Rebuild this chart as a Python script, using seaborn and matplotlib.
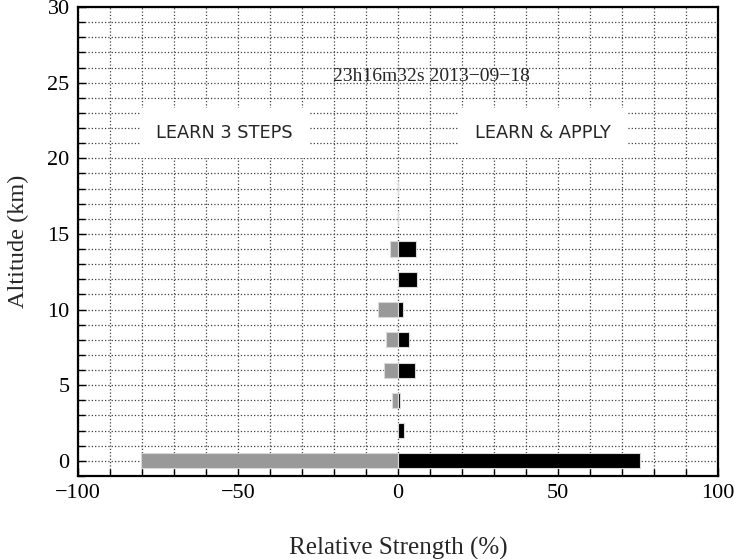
import numpy as np
import pandas as pd
import seaborn as sns
import matplotlib.pyplot as plt
from matplotlib.ticker import MultipleLocator

# values
altitude = [0, 2, 4, 6, 8, 10, 12, 14, 16, 18]
learn_3_steps = [-80.3, 0.0, -2.0, -4.4, -3.9, -6.1, 0.0, -2.6, 0.0, -0.1]
learn_apply = [75.7, 1.8, 0.5, 5.2, 3.4, 1.5, 5.9, 5.7, 0.0, 0.15]

data = pd.DataFrame({'altitude': altitude,
                     'learn3': learn_3_steps,
                     'apply': learn_apply})

sns.set_style('white')
plt.rcParams['font.family'] = ['Liberation Serif', 'DejaVu Serif']

fig = plt.figure(figsize=(7.35, 5.59), dpi=100)
ax = fig.add_axes([0.106, 0.1485, 0.871, 0.839])

sns.barplot(data=data, x='learn3', y='altitude', orient='h', native_scale=True,
            width=0.5, color='#999999', saturation=1, edgecolor='#d8d8d8',
            linewidth=0.8, errorbar=None, ax=ax)
sns.barplot(data=data, x='apply', y='altitude', orient='h', native_scale=True,
            width=0.5, color='black', saturation=1, edgecolor='#d8d8d8',
            linewidth=0.8, errorbar=None, ax=ax)

ax.set_xlim(-100, 100)
ax.set_ylim(-1, 30)
ax.xaxis.set_major_locator(MultipleLocator(50))
ax.xaxis.set_minor_locator(MultipleLocator(10))
ax.yaxis.set_major_locator(MultipleLocator(5))
ax.yaxis.set_minor_locator(MultipleLocator(1))
ax.set_axisbelow(True)
ax.grid(which='both', linestyle=':', color='0.25', linewidth=0.9)

ax.tick_params(which='both', direction='in', bottom=True, left=True,
               top=False, right=False, labelsize=16, width=1.0, colors='black')
ax.tick_params(which='major', length=6, pad=6)
ax.tick_params(which='minor', length=5)
for s in ax.spines.values():
    s.set_visible(True)
    s.set_color('black')
    s.set_linewidth(1.6)

ax.set_xticks([-100, -50, 0, 50, 100])
ax.set_xticklabels(['\u2212100', '\u221250', '0', '50', '100'])
ax.set_xlabel('Relative Strength (%)', fontsize=18, labelpad=24)
ax.set_ylabel('Altitude (km)', fontsize=17.5, labelpad=13)

ax.text(10.4, 25.4, '23h16m32s 2013\u221209\u221218', fontsize=14,
        ha='center', va='center')
box = dict(boxstyle='square,pad=0.9', facecolor='white', edgecolor='none')
ax.text(-54.3, 21.7, 'LEARN 3 STEPS', fontsize=12.8, family=['DejaVu Sans'],
        ha='center', va='center', bbox=box)
ax.text(45.4, 21.7, 'LEARN & APPLY', fontsize=12.8, family=['DejaVu Sans'],
        ha='center', va='center', bbox=box)

fig.savefig('out.png', dpi=100)
